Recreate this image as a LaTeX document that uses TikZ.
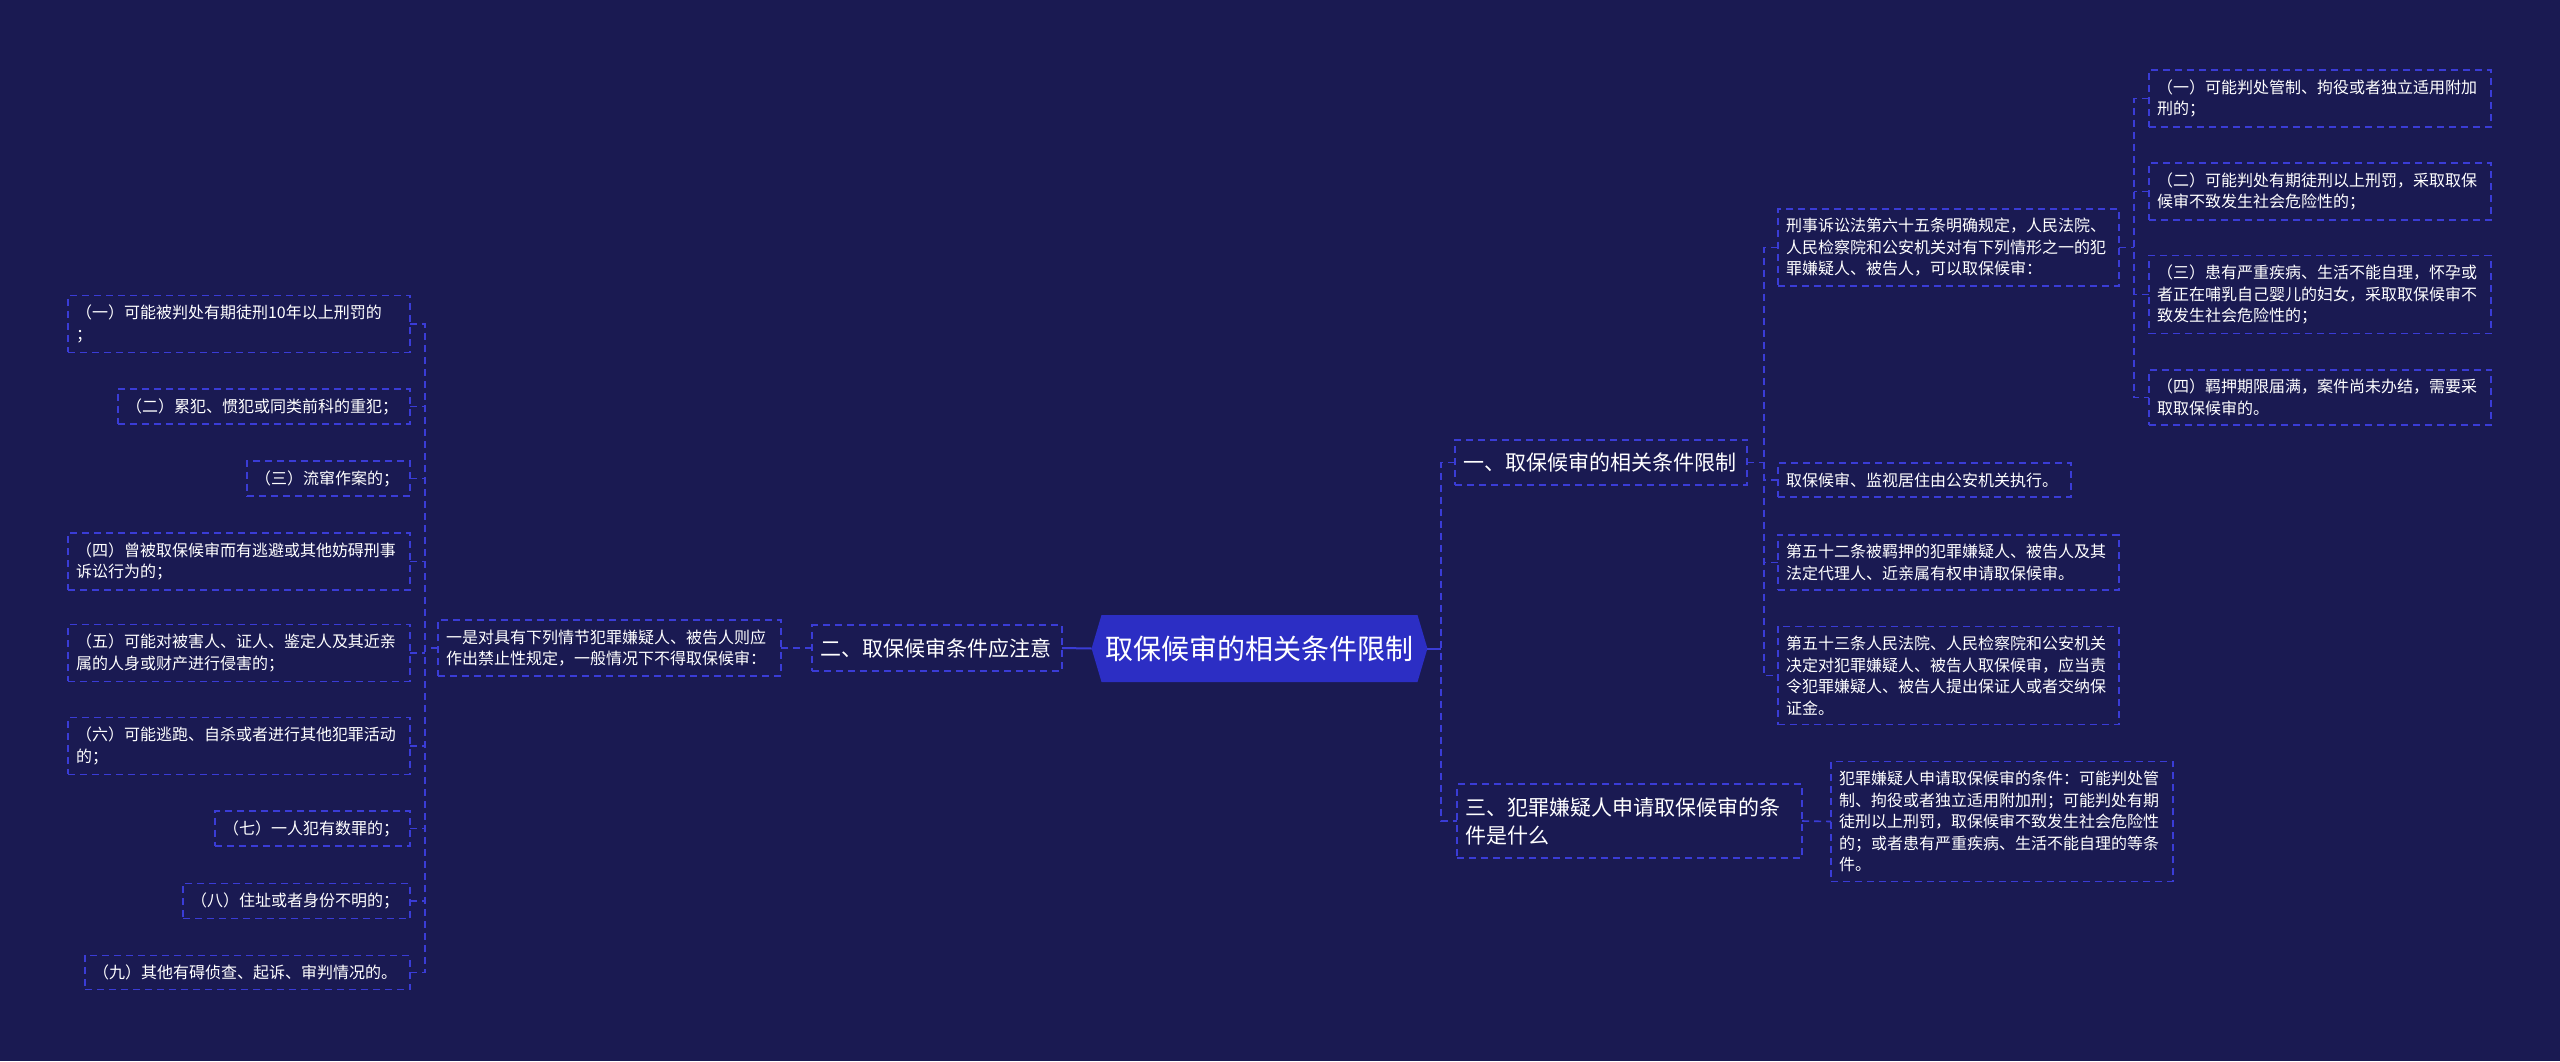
\documentclass[tikz,border=0pt]{standalone}
\usepackage{fontspec}
\newfontfamily\cjk{Noto Sans CJK SC}
\usetikzlibrary{shapes.symbols}
\definecolor{bgnavy}{RGB}{26,26,82}
\definecolor{linkblue}{RGB}{58,60,214}
\definecolor{rootblue}{RGB}{44,46,196}

\begin{document}
\begin{tikzpicture}[x=1pt, y=-1pt,
  leafbox/.style={draw=linkblue, line width=1.6pt, dash pattern=on 7pt off 5pt,
    text=white, align=left, inner xsep=8pt, inner ysep=9.5pt, outer sep=0pt,
    font=\cjk\fontsize{16}{21.5}\selectfont},
  branch/.style={leafbox, inner ysep=13pt, font=\cjk\fontsize{21}{28}\selectfont},
  link/.style={linkblue, line width=1.6pt, dash pattern=on 7pt off 5pt},
  stem/.style={linkblue, line width=2pt}]
  % background
  \fill[bgnavy] (0,0) rectangle (2560,1061);
  \coordinate (lbus) at (425,648);
  \coordinate (rbus) at (1441,648);
  \coordinate (cbus) at (1764,462.5);
  \coordinate (gbus) at (2134,247.5);
  % root
  \node[signal, signal to=west and east, signal pointer angle=147, fill=rootblue,
        text=white, minimum height=67pt, inner xsep=4pt, outer sep=0pt,
        font=\cjk\fontsize{28}{34}\selectfont] (root) at (1259.5,648.5) {取保候审的相关条件限制};
  % left branch
  \node[branch, text width=234pt] (b2) at (937,648) {二、取保候审条件应注意};
  \node[leafbox, text width=327pt] (n21) at (609.5,648) {一是对具有下列情节犯罪嫌疑人、被告人则应\\作出禁止性规定，一般情况下不得取保候审：};
  \node[leafbox, anchor=east, text width=326pt] (l1) at (410,324) {（一）可能被判处有期徒刑10年以上刑罚的\\；};
  \node[leafbox, anchor=east, text width=276pt] (l2) at (410,406.5) {（二）累犯、惯犯或同类前科的重犯；};
  \node[leafbox, anchor=east, text width=147pt] (l3) at (410,478.5) {（三）流窜作案的；};
  \node[leafbox, anchor=east, text width=326pt] (l4) at (410,561.5) {（四）曾被取保候审而有逃避或其他妨碍刑事\\诉讼行为的；};
  \node[leafbox, anchor=east, text width=326pt] (l5) at (410,653) {（五）可能对被害人、证人、鉴定人及其近亲\\属的人身或财产进行侵害的；};
  \node[leafbox, anchor=east, text width=326pt] (l6) at (410,746) {（六）可能逃跑、自杀或者进行其他犯罪活动\\的；};
  \node[leafbox, anchor=east, text width=179pt] (l7) at (410,828.5) {（七）一人犯有数罪的；};
  \node[leafbox, anchor=east, text width=211pt] (l8) at (410,901) {（八）住址或者身份不明的；};
  \node[leafbox, anchor=east, text width=309pt] (l9) at (410,972.5) {（九）其他有碍侦查、起诉、审判情况的。};
  % right branches
  \node[branch, anchor=west, text width=276pt] (b1) at (1455,462.5) {一、取保候审的相关条件限制};
  \node[branch, anchor=west, text width=329pt] (b3) at (1457,821) {三、犯罪嫌疑人申请取保候审的条\\件是什么};
  \node[leafbox, anchor=west, text width=326pt] (c3) at (1831,821.5) {犯罪嫌疑人申请取保候审的条件：可能判处管\\制、拘役或者独立适用附加刑；可能判处有期\\徒刑以上刑罚，取保候审不致发生社会危险性\\的；或者患有严重疾病、生活不能自理的等条\\件。};
  \node[leafbox, anchor=west, text width=325pt] (r1) at (1778,247.5) {刑事诉讼法第六十五条明确规定，人民法院、\\人民检察院和公安机关对有下列情形之一的犯\\罪嫌疑人、被告人，可以取保候审：};
  \node[leafbox, anchor=west, text width=277pt] (r2) at (1778,480) {取保候审、监视居住由公安机关执行。};
  \node[leafbox, anchor=west, text width=325pt] (r3) at (1778,562.5) {第五十二条被羁押的犯罪嫌疑人、被告人及其\\法定代理人、近亲属有权申请取保候审。};
  \node[leafbox, anchor=west, text width=325pt] (r4) at (1778,675.5) {第五十三条人民法院、人民检察院和公安机关\\决定对犯罪嫌疑人、被告人取保候审，应当责\\令犯罪嫌疑人、被告人提出保证人或者交纳保\\证金。};
  \node[leafbox, anchor=west, text width=326pt] (g1) at (2149,98.5) {（一）可能判处管制、拘役或者独立适用附加\\刑的；};
  \node[leafbox, anchor=west, text width=326pt] (g2) at (2149,191.5) {（二）可能判处有期徒刑以上刑罚，采取取保\\候审不致发生社会危险性的；};
  \node[leafbox, anchor=west, text width=326pt] (g3) at (2149,294.5) {（三）患有严重疾病、生活不能自理，怀孕或\\者正在哺乳自己婴儿的妇女，采取取保候审不\\致发生社会危险性的；};
  \node[leafbox, anchor=west, text width=326pt] (g4) at (2149,397.5) {（四）羁押期限届满，案件尚未办结，需要采\\取取保候审的。};
  % connectors
  \draw[stem] (root.west) -- (b2.east);
  \draw[stem] (root.east) -- (root.east -| rbus);
  \draw[link] (b1.west) -| (rbus) |- (b3.west);
  \draw[link] (b2.west) -- (n21.east);
  \draw[link] (n21.west) -- (lbus);
  \draw[link] (l1.east) -| (lbus) |- (l9.east);
  \foreach \k in {2,...,8}
    \draw[link] (l\k.east) -- (l\k.east -| lbus);
  \draw[link] (b1.east) -- (b1.east -| cbus);
  \draw[link] (r1.west) -| (cbus) |- (r4.west);
  \foreach \k in {2,3}
    \draw[link] (r\k.west) -- (r\k.west -| cbus);
  \draw[link] (r1.east) -- (r1.east -| gbus);
  \draw[link] (g1.west) -| (gbus) |- (g4.west);
  \foreach \k in {2,3}
    \draw[link] (g\k.west) -- (g\k.west -| gbus);
  \draw[link] (b3.east) -- (c3.west);
\end{tikzpicture}
\end{document}
